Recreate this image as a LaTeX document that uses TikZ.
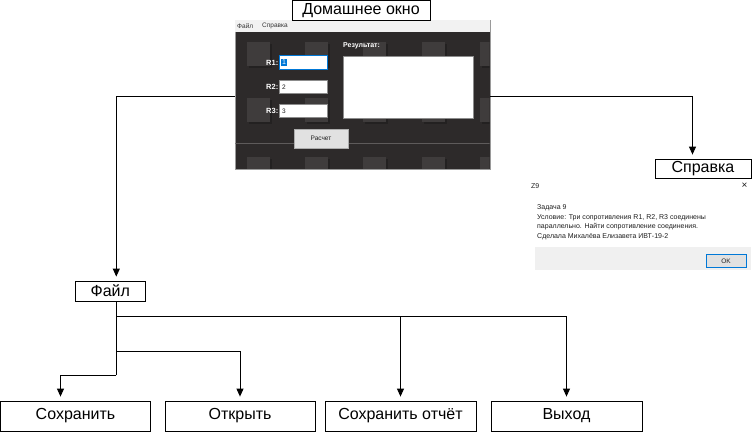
\documentclass[tikz,border=0pt]{standalone}
\usepackage{fontspec}
\setmainfont{Liberation Sans}
\usetikzlibrary{arrows.meta,calc}

\definecolor{winbg}{HTML}{2D2A2A}
\definecolor{winedge}{HTML}{9A9A9A}
\definecolor{menubg}{HTML}{F2F2F2}
\definecolor{menutext}{HTML}{333333}
\definecolor{tilegray}{HTML}{3F3C3C}
\definecolor{tileshade}{HTML}{232121}
\definecolor{sepline}{HTML}{5E5B5B}
\definecolor{tbedge}{HTML}{8C8C8C}
\definecolor{selblue}{HTML}{0078D7}
\definecolor{btnfill}{HTML}{E1E1E1}
\definecolor{btnedge}{HTML}{ADADAD}
\definecolor{dlgband}{HTML}{F0F0F0}
\definecolor{dlgtext}{HTML}{1E1E1E}

\begin{document}
\begin{tikzpicture}[x=1pt,y=-1pt,
  box/.style={draw,line width=0.8pt,inner sep=0pt,fill=white,
    font=\fontsize{16}{19}\selectfont},
  link/.style={line width=0.9pt,-{Triangle[width=7pt,length=8pt]},shorten >=4pt},
  wire/.style={line width=0.9pt},
  tile/.style={fill=tilegray},
  uitext/.style={inner sep=0pt,font=\fontsize{6.5}{8}\selectfont},
  rlabel/.style={anchor=east,inner sep=0pt,text=white,font=\bfseries\fontsize{7.5}{9}\selectfont},
  tbox/.style={fill=white,draw=tbedge,line width=0.6pt,minimum width=48,minimum height=13.5,inner sep=0pt},
  btn/.style={fill=btnfill,draw=btnedge,line width=0.6pt,inner sep=0pt,text=dlgtext,
    font=\fontsize{6.5}{8}\selectfont},
  dlgline/.style={anchor=west,inner sep=0pt,text=dlgtext,font=\fontsize{7}{8.5}\selectfont}]
\useasboundingbox (0,0) rectangle (753,432);

% ---- main window: dark textured client area with a menu bar ----
\node[minimum width=255,minimum height=149,inner sep=0pt,draw=winedge,fill=winbg,line width=0.6pt]
  (win) at (362.5,94.5) {};
\fill[menubg] (235.3,20.3) rectangle (489.7,32);
\begin{scope}
  \clip (235.3,32) rectangle (489.7,168.7);
  \foreach \cx in {247,305,363,422,480}
    \foreach \cy in {42,98,157} {
      \fill[tileshade] (\cx+1.5,\cy+2) rectangle ++(23,24);
      \fill[tile] (\cx,\cy) rectangle ++(23,24);
    }
  \draw[sepline,line width=0.6pt] (235.3,143) -- (489.7,143);
\end{scope}
\node[uitext,anchor=west,text=menutext] (mfile) at (237,26) {Файл};
\node[uitext,anchor=west,text=menutext] (mhelp) at (262,26) {Справка};

% input fields
\node[rlabel] (l1) at (278.5,62.5) {R1:};
\node[rlabel] (l2) at (278.5,87) {R2:};
\node[rlabel] (l3) at (278.5,111) {R3:};
\node[tbox,draw=selblue,line width=0.8pt] (r1) at (303,62.5) {};
\node[tbox] (r2) at (303,87) {};
\node[tbox] (r3) at (303,111) {};
\node[anchor=west,fill=selblue,text=white,inner xsep=0.8pt,inner ysep=1pt,
  font=\fontsize{7}{8}\selectfont] (v1) at (281,62.5) {1};
\node[anchor=west,inner sep=0pt,text=dlgtext,font=\fontsize{6.5}{8}\selectfont] (v2) at (282,87) {2};
\node[anchor=west,inner sep=0pt,text=dlgtext,font=\fontsize{6.5}{8}\selectfont] (v3) at (282,111) {3};

% result area and button
\node[anchor=west,inner sep=0pt,text=white,font=\bfseries\fontsize{7}{8}\selectfont] (reslbl) at (343,46) {Результат:};
\node[fill=white,draw=tbedge,line width=0.6pt,minimum width=130,minimum height=62,inner sep=0pt]
  (res) at (408,87) {};
\node[btn,minimum width=54,minimum height=19] (calc) at (321,138.5) {Расчет};

% ---- diagram boxes ----
\node[box,minimum width=138,minimum height=20] (home) at (361,10.5) {Домашнее окно};
\node[box,minimum width=96,minimum height=19] (help) at (703,168.5) {Справка};
\node[box,minimum width=70,minimum height=20] (file) at (110.3,291) {Файл};
\node[box,minimum width=150,minimum height=30] (save) at (75.5,416) {Сохранить};
\node[box,minimum width=150,minimum height=30] (open) at (240,416) {Открыть};
\node[box,minimum width=151,minimum height=30] (report) at (400.5,416) {Сохранить отчёт};
\node[box,minimum width=151,minimum height=30] (quit) at (566.5,416) {Выход};

% ---- "About" dialog ----
\node[dlgline] (dtitle) at (531,186) {Z9};
\node[inner sep=0pt,text=dlgtext,font=\fontsize{10}{10}\selectfont] (dclose) at (744.5,185.5) {×};
\node[dlgline] (d1) at (537,208) {Задача 9};
\node[dlgline] (d2) at (537,217.5) {Условие: Три сопротивления R1, R2, R3 соединены};
\node[dlgline] (d3) at (537,227) {параллельно. Найти сопротивление соединения.};
\node[dlgline] (d4) at (537,236.5) {Сделала Михалёва Елизавета ИВТ-19-2};
\fill[dlgband] (535,247) rectangle (751,270);
\node[btn,draw=selblue,line width=0.8pt,minimum width=40,minimum height=12.5] (ok) at (726,261) {OK};

% ---- connectors ----
\draw[link] ([yshift=-1.5pt]win.west) -| ([xshift=6pt]file.north);
\draw[link] ([yshift=-1.5pt]win.east) -| ([xshift=-10.5pt]help.north);

\coordinate (f0) at ([xshift=6pt]file.south);
\coordinate (j1) at ($(f0)+(0,15)$);
\coordinate (j2) at ($(f0)+(0,50)$);
\coordinate (j3) at ($(f0)+(0,74)$);
\draw[wire] (f0) -- (j3);
\draw[link] (j1) -| (report.north);
\draw[link] (j1) -| (quit.north);
\draw[link] (j2) -| (open.north);
\draw[link] (j3) -| ([xshift=-15pt]save.north);
\end{tikzpicture}
\end{document}
